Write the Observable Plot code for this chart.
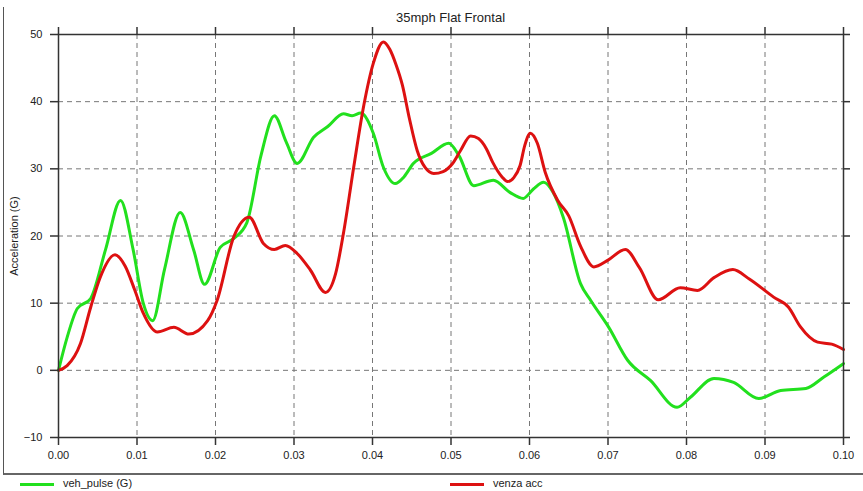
<!DOCTYPE html>
<html>
<head>
<meta charset="utf-8">
<script src="https://cdn.jsdelivr.net/npm/d3@7"></script>
<script src="https://cdn.jsdelivr.net/npm/@observablehq/plot@0.6"></script>
<style>
  html, body { margin: 0; padding: 0; background: #fff; }
  body { width: 863px; height: 491px; overflow: hidden; position: relative; font-family: "Liberation Sans", Arial, sans-serif; }
  #frame { position: absolute; left: 3px; top: 7px; width: 860px; height: 466px; border-left: 1px solid #555; border-bottom: 2px solid #666; }
  #title { position: absolute; left: 0; top: 0; width: 901px; height: 26px; text-align: center; font-size: 13px; line-height: 35px; color: #222; }
  #chart { position: absolute; left: 0; top: 26px; }
  #legend { position: absolute; left: 0; top: 475px; width: 863px; height: 16px; font-size: 11px; color: #222; }
  .sw { position: absolute; top: 8px; height: 3px; width: 34px; }
  .lab { position: absolute; top: 2px; }
</style>
</head>
<body>
<div id="frame"></div>
<div id="title">35mph Flat Frontal</div>
<div id="chart"></div>
<div id="legend">
  <div class="sw" style="left:20px;background:#22e01e"></div><div class="lab" style="left:63px">veh_pulse (G)</div>
  <div class="sw" style="left:450px;background:#dd1111"></div><div class="lab" style="left:493px">venza acc</div>
</div>
<script>
const seriesNames = ["veh_pulse (G)", "venza acc"];
const xTicks = [0, 0.01, 0.02, 0.03, 0.04, 0.05, 0.06, 0.07, 0.08, 0.09, 0.10];
const yTicks = [-10, 0, 10, 20, 30, 40, 50];

const vehT = [0,0.0011,0.0024,0.0041,0.0060,0.0079,0.0095,0.0108,0.0120,0.0135,0.0155,0.0172,0.0186,0.0206,0.0223,0.0240,0.0258,0.0275,0.0290,0.0304,0.0325,0.0343,0.0363,0.0374,0.0385,0.0401,0.0414,0.0429,0.0440,0.0452,0.0475,0.0497,0.0510,0.0529,0.0554,0.0575,0.0592,0.0605,0.0618,0.0630,0.0643,0.0665,0.0678,0.0701,0.0725,0.0754,0.0788,0.0805,0.0835,0.0860,0.0892,0.0920,0.0952,0.0975,0.1];
const vehV = [0,4.9,9.2,10.7,18,25.3,18,10,7.4,15,23.5,18,12.8,18.3,19.6,22,32,37.9,34,30.8,34.7,36.3,38.2,37.9,38.3,35.3,30.2,27.8,28.8,30.8,32.3,33.8,32,27.5,28.3,26.5,25.6,27,28.0,26.5,22.8,12.9,10.4,6.4,1.5,-1.5,-5.5,-4,-1.2,-1.8,-4.2,-3,-2.7,-1,1.0];

const venzaT = [0,0.0011,0.0028,0.0041,0.0053,0.0072,0.0085,0.0097,0.0108,0.0126,0.0147,0.0166,0.0190,0.0202,0.0223,0.0243,0.0261,0.0275,0.0289,0.0304,0.0321,0.0340,0.0353,0.0363,0.0376,0.0389,0.0401,0.0414,0.0422,0.0430,0.0438,0.0447,0.0457,0.0467,0.0478,0.0490,0.0502,0.0512,0.0525,0.0535,0.0545,0.0553,0.0565,0.0572,0.0580,0.0588,0.0594,0.0601,0.0610,0.0620,0.0636,0.0650,0.0665,0.0682,0.0700,0.0722,0.0740,0.0764,0.0792,0.0814,0.0835,0.0859,0.0880,0.0911,0.0930,0.0945,0.0967,0.0985,0.1];
const venzaV = [0,0.7,4.0,9.4,13.8,17.2,15.5,12,8.5,5.7,6.4,5.4,7.4,10.4,19.8,22.8,18.9,18.0,18.6,17.4,14.9,11.6,14.4,20.4,30.2,39.5,45.7,48.9,47.8,45.5,42.5,37.5,32.7,30.2,29.3,29.6,30.8,32.7,34.9,34.5,33.0,31.0,28.8,28.1,28.7,30.5,33.5,35.3,33.8,29.5,25.3,23,18.5,15.4,16.4,18.0,15.3,10.5,12.3,11.9,13.8,15.0,13.6,10.9,9.4,6.5,4.2,3.9,3.1];

const veh = vehT.map((t, i) => ({t, v: vehV[i]}));
const venza = venzaT.map((t, i) => ({t, v: venzaV[i]}));

const chart = Plot.plot({
  width: 863,
  height: 447,
  marginLeft: 58,
  marginRight: 20,
  marginTop: 8,
  marginBottom: 36,
  style: {fontFamily: "Liberation Sans, Arial, sans-serif", fontSize: "11px", color: "#222", background: "transparent"},
  x: {domain: [0, 0.1], ticks: xTicks},
  y: {domain: [-10, 50], ticks: yTicks},
  marks: [
    Plot.gridX(xTicks.slice(1, -1), {stroke: "#777", strokeOpacity: 1, strokeDasharray: "5,4"}),
    Plot.gridY(yTicks.slice(1, -1), {stroke: "#777", strokeOpacity: 1, strokeDasharray: "5,4"}),
    Plot.line(veh, {x: "t", y: "v", stroke: "#22e01e", strokeWidth: 3, curve: "monotone-x"}),
    Plot.line(venza, {x: "t", y: "v", stroke: "#dd1111", strokeWidth: 3, curve: "monotone-x"}),
    Plot.frame({stroke: "#333", strokeWidth: 1.5}),
    Plot.axisX(xTicks, {anchor: "bottom", tickSize: 8, tickPadding: 6, tickFormat: d3.format(".2f"), label: null, stroke: "#333", strokeWidth: 1.5}),
    Plot.axisX(xTicks, {anchor: "top", tickSize: 8, tickFormat: () => "", label: null, stroke: "#333", strokeWidth: 1.5}),
    Plot.axisY(yTicks, {anchor: "left", tickSize: 8, tickPadding: 8, label: "Acceleration (G)", labelAnchor: "center", labelArrow: "none", labelOffset: 48, stroke: "#333", strokeWidth: 1.5}),
    Plot.axisY(yTicks, {anchor: "right", tickSize: 6, tickFormat: () => "", label: null, stroke: "#333", strokeWidth: 1.5})
  ]
});
document.getElementById("chart").appendChild(chart);
</script>
</body>
</html>
